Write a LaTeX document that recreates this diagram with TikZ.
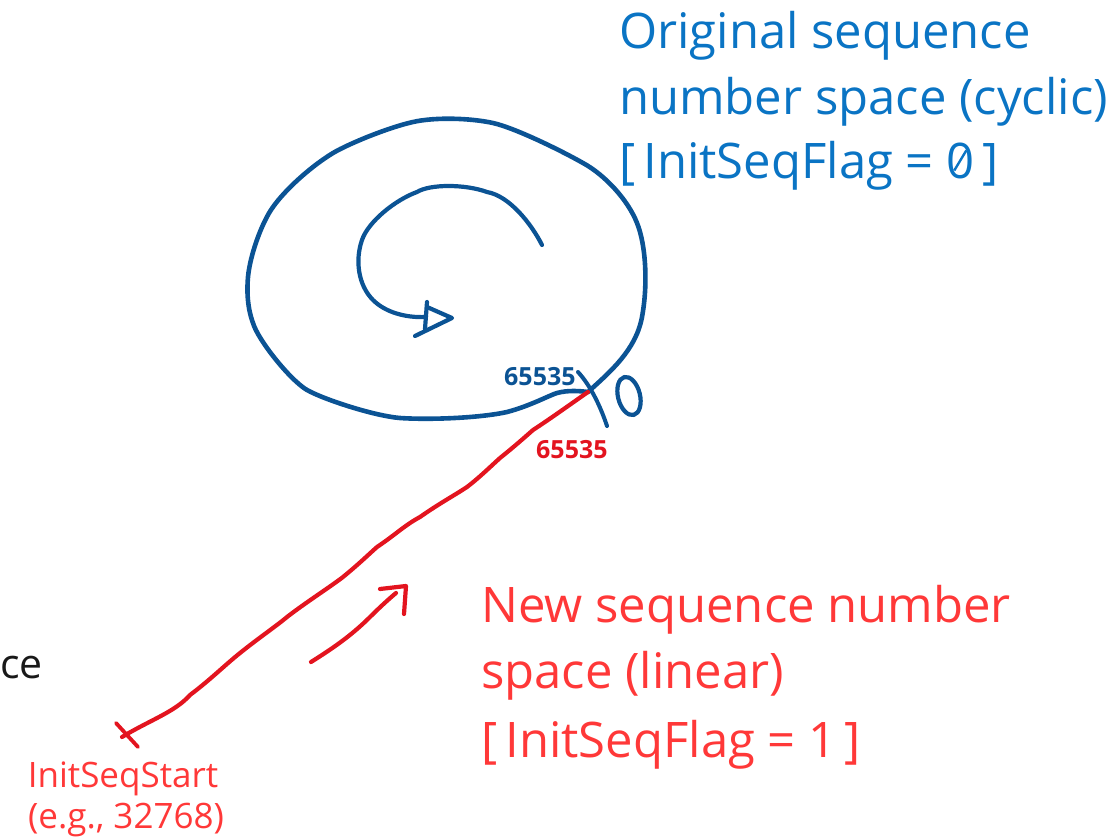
\documentclass[tikz,border=0pt]{standalone}
\usepackage{fontspec}
\setmainfont{Open Sans}
\newfontfamily\handfont{Open Sans}
\definecolor{penblue}{HTML}{0B5394}
\definecolor{textblue}{HTML}{0A74C4}
\definecolor{penred}{HTML}{E3141F}
\definecolor{textred}{HTML}{FF3838}
\tikzset{
  bluepen/.style={draw=penblue, line width=4.6pt, line cap=round, line join=round},
  redpen/.style={draw=penred, line width=4.2pt, line cap=round, line join=round},
  bigblue/.style={text=textblue, anchor=base west, inner sep=0pt, font=\fontsize{49}{58}\selectfont},
  bigred/.style={text=textred, anchor=base west, inner sep=0pt, font=\fontsize{49}{58}\selectfont},
  smallred/.style={text=textred, anchor=base, inner sep=0pt, font=\fontsize{35}{40}\selectfont},
  handblue/.style={text=penblue, anchor=base west, inner sep=0pt, font=\handfont\bfseries\fontsize{25}{30}\selectfont},
  handred/.style={text=penred, anchor=base west, inner sep=0pt, font=\handfont\bfseries\fontsize{25}{30}\selectfont},
}
\begin{document}
\begin{tikzpicture}[x=1pt,y=-1pt]
\useasboundingbox (0,0) rectangle (1114,838);

% wrap-around point of the cyclic space and start of the linear space
\coordinate (zero) at (588,392);
\coordinate (start) at (122,737);

% outer loop: the cyclic number space
\draw[bluepen] (zero)
  .. controls (610,372) and (636,350) .. (642,317)
  .. controls (648,285) and (646,245) .. (637,223)
  .. controls (628,200) and (605,175) .. (583,163)
  .. controls (560,150) and (515,128) .. (493,123)
  .. controls (470,118) and (435,117) .. (413,122)
  .. controls (390,127) and (350,143) .. (333,153)
  .. controls (310,167) and (285,190) .. (273,207)
  .. controls (262,222) and (250,255) .. (248,277)
  .. controls (246,300) and (250,315) .. (253,323)
  .. controls (258,340) and (290,380) .. (307,390)
  .. controls (325,400) and (375,416) .. (400,418)
  .. controls (430,420) and (480,418) .. (507,412)
  .. controls (530,406) and (550,395) .. (557,393)
  .. controls (568,390) and (580,391) .. (zero);

% wrap-around tick and its labels
\draw[bluepen, line width=4pt] (578,372) .. controls (590,385) and (600,405) .. (607,426);
\draw[bluepen, line width=4.2pt, rotate around={14:(629,396)}] (629,396) ellipse [x radius=11, y radius=19.5];
\node[handblue] (maxblue) at (504,385) {65535};
\node[handred] (maxred) at (536,458) {65535};

% inner spiral arrow showing the direction of counting
\draw[bluepen, line width=4.2pt] (542,245)
  .. controls (532,225) and (510,196) .. (487,192)
  .. controls (465,184) and (430,184) .. (417,192)
  .. controls (395,200) and (368,222) .. (362,240)
  .. controls (355,260) and (358,285) .. (373,300)
  .. controls (385,312) and (405,318) .. (426,317);
\draw[bluepen, line width=4.2pt] (427,302) -- (425,329);
\draw[bluepen, line width=4.2pt] (427,307) -- (452,318) -- (415,336);

% linear number space
\draw[redpen] (start)
  .. controls (150,720) and (175,712) .. (190,695)
  .. controls (210,680) and (225,665) .. (240,653)
  .. controls (260,637) and (275,627) .. (287,617)
  .. controls (305,603) and (330,587) .. (343,577)
  .. controls (360,563) and (368,555) .. (377,547)
  .. controls (395,535) and (405,525) .. (420,517)
  .. controls (440,503) and (455,495) .. (467,487)
  .. controls (480,477) and (490,467) .. (500,458)
  .. controls (515,446) and (525,437) .. (533,430)
  .. controls (550,419) and (575,401) .. (zero);
\draw[redpen, line width=3.8pt] (116,723) -- (138,747);

% small direction arrow along the linear space
\coordinate (dirtail) at (311,662);
\coordinate (dirhead) at (406,586);
\draw[redpen] (dirtail)
  .. controls (330,650) and (350,637) .. (370,617)
  .. controls (380,607) and (390,598) .. (396,593);
\draw[redpen] (380,589) -- (dirhead) -- (404,614);

% labels
\node[bigblue] (origA) at (619,48) {Original sequence};
\node[bigblue] (origB) at (619,114) {number space (cyclic)};
\node[bigblue] (origC) at (619,178) {[\,InitSeqFlag =};
\node[bigblue] (flagzero) at ([xshift=12pt]origC.base east) {0};
\node[bigblue] (origD) at ([xshift=8pt]flagzero.base east) {]};
% slash through the zero
\draw[textblue, line width=2.4pt] (flagzero.center) ++(-6,10) -- ++(12,-20);

\node[bigred] (newA) at (481,622) {New sequence number};
\node[bigred] (newB) at (481,688) {space (linear)};
\node[bigred] (newC) at (481,757) {[\,InitSeqFlag = 1\,]};

\node[smallred] (startA) at (123,787) {InitSeqStart};
\node[smallred] (startB) at (126,828) {(e.g., 32768)};

\node[anchor=base west, inner sep=0pt, font=\fontsize{41}{50}\selectfont, text=black!90] (cut) at (0,678) {ce};
\end{tikzpicture}
\end{document}
